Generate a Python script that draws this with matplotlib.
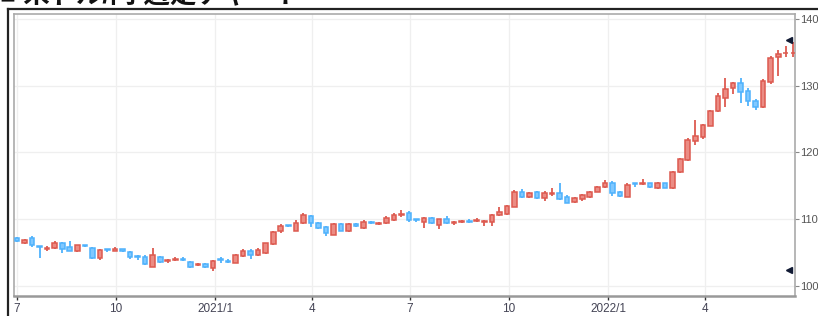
import numpy as np
import pandas as pd
import matplotlib
matplotlib.use("Agg")
import matplotlib.pyplot as plt
import matplotlib.dates as mdates
from matplotlib.lines import Line2D
from matplotlib.transforms import blended_transform_factory

plt.rcParams['font.family'] = ['Liberation Sans', 'Noto Sans CJK JP', 'DejaVu Sans']

# weekly candles, USD/JPY
dates = pd.date_range("2020-07-01", periods=104, freq="7D")

opens = [107.2, 106.4, 107.2, 105.95, 105.6, 105.7, 106.4, 105.8, 105.2, 106.05,
         105.7, 104.2, 105.45, 105.3, 105.5, 105.1, 104.5, 104.4, 102.9, 104.4,
         103.7, 103.95, 104.05, 103.6, 103.1, 103.3, 102.75, 103.95, 103.65, 103.5,
         104.55, 105.25, 104.6, 104.9, 106.25, 108.2, 109.05, 108.3, 109.4, 110.55,
         109.5, 108.9, 107.7, 109.3, 108.3, 109.3, 108.7, 109.55, 109.35, 109.4,
         109.9, 110.6, 110.9, 109.95, 109.65, 110.25, 109.15, 110.1, 109.45, 109.6,
         109.7, 109.75, 109.6, 109.65, 110.65, 110.8, 111.9, 114.15, 113.3, 114.15,
         113.2, 113.85, 114.0, 113.4, 112.65, 113.0, 113.3, 114.15, 114.8, 115.4,
         114.15, 113.4, 115.45, 115.35, 115.4, 114.75, 115.4, 114.65, 117.15, 118.9,
         121.75, 122.3, 124.0, 126.15, 128.15, 129.65, 130.4, 129.15, 127.75, 126.8,
         130.5, 134.3, 134.85, 134.85]
highs = [107.4, 107.0, 107.5, 106.0, 106.0, 106.8, 106.6, 106.8, 106.2, 106.1,
         105.8, 105.5, 105.6, 105.8, 105.6, 105.2, 104.7, 104.6, 105.7, 104.5,
         104.1, 104.4, 104.3, 103.7, 103.4, 103.4, 103.9, 104.3, 104.0, 104.8,
         105.6, 105.5, 105.7, 106.5, 108.3, 109.3, 109.1, 109.9, 110.9, 110.7,
         109.6, 109.0, 109.4, 109.5, 109.4, 109.4, 109.9, 109.8, 109.6, 110.5,
         110.9, 111.4, 111.2, 110.1, 110.4, 110.4, 110.1, 110.5, 109.8, 109.9,
         110.0, 110.2, 109.9, 110.8, 111.9, 112.1, 114.4, 114.6, 114.1, 114.3,
         114.2, 114.7, 115.4, 113.6, 113.4, 113.8, 114.3, 115.0, 115.9, 115.7,
         114.3, 115.5, 115.5, 116.0, 115.5, 115.6, 115.5, 117.3, 119.2, 122.2,
         124.9, 124.3, 126.4, 128.9, 131.1, 130.6, 131.2, 129.6, 128.0, 131.0,
         134.4, 135.4, 135.9, 136.6]
lows = [106.6, 106.3, 105.9, 104.2, 105.3, 105.6, 105.0, 105.2, 105.1, 105.9,
        104.1, 103.9, 105.1, 105.2, 105.1, 104.1, 103.9, 103.2, 102.9, 103.5,
        103.5, 103.7, 103.8, 102.7, 103.0, 102.7, 102.25, 103.5, 103.4, 103.4,
        104.4, 104.0, 104.5, 104.8, 106.1, 108.0, 108.8, 108.2, 109.3, 108.9,
        108.6, 107.5, 107.6, 108.2, 108.1, 108.9, 108.5, 109.3, 109.2, 109.3,
        109.8, 110.3, 109.6, 109.6, 108.7, 109.3, 108.6, 109.3, 109.1, 109.4,
        109.5, 109.6, 109.0, 109.0, 110.5, 110.7, 111.8, 113.2, 113.2, 113.1,
        112.8, 113.5, 112.9, 112.4, 112.5, 112.8, 113.2, 114.1, 114.7, 113.5,
        113.4, 113.3, 114.8, 115.2, 114.7, 114.5, 114.7, 114.6, 117.0, 118.8,
        121.15, 122.0, 123.9, 126.0, 126.8, 128.7, 127.4, 127.0, 126.4, 126.7,
        130.3, 131.4, 134.3, 134.3]
closes = [106.7, 106.9, 106.1, 105.85, 105.75, 106.4, 105.6, 105.3, 106.1, 105.95,
          104.2, 105.4, 105.35, 105.5, 105.2, 104.4, 104.4, 103.3, 104.6, 103.6,
          103.8, 104.05, 103.95, 102.9, 103.3, 102.9, 103.75, 103.85, 103.55, 104.6,
          105.25, 104.6, 105.4, 106.4, 108.15, 108.95, 108.95, 109.5, 110.65, 109.4,
          108.7, 107.9, 109.3, 108.3, 109.3, 109.0, 109.65, 109.45, 109.45, 110.15,
          110.65, 110.7, 109.9, 109.85, 110.25, 109.5, 110.0, 109.5, 109.55, 109.7,
          109.6, 109.85, 109.7, 110.65, 111.15, 112.0, 114.15, 113.3, 113.9, 113.2,
          113.9, 113.95, 113.0, 112.5, 113.25, 113.65, 114.15, 114.9, 115.4, 113.9,
          113.5, 115.15, 115.35, 115.45, 114.8, 115.4, 114.75, 117.15, 119.0, 121.9,
          122.4, 124.05, 126.25, 128.4, 129.55, 130.4, 129.0, 127.65, 126.8, 130.65,
          134.15, 134.8, 134.95, 134.95]

tick_dates = ["2020-07-01", "2020-10-01", "2021-01-01", "2021-04-01",
              "2021-07-01", "2021-10-01", "2022-01-01", "2022-04-01"]
tick_labels = ["7", "10", "2021/1", "4", "7", "10", "2022/1", "4"]
y_ticks = [100, 110, 120, 130, 140]

title = "■ 米ドル/円 週足チャート"

up_fill, up_edge = "#eb8c84", "#dd5a50"
down_fill, down_edge = "#80c8ff", "#4fb2fc"

fig = plt.figure(figsize=(8.18, 3.16), dpi=100)
ax = fig.add_axes([14 / 818, 1 - 296 / 316, 781 / 818, 282 / 316])

x = mdates.date2num(dates)
o = np.array(opens)
h = np.array(highs)
l = np.array(lows)
c = np.array(closes)
up = c >= o

for i in range(len(x)):
    fc, ec = (up_fill, up_edge) if up[i] else (down_fill, down_edge)
    ax.vlines(x[i], l[i], h[i], color=ec, lw=1.3, zorder=2)
    bottom = min(o[i], c[i])
    height = max(abs(c[i] - o[i]), 0.12)
    ax.bar(x[i], height, width=4.3, bottom=bottom, color=fc, edgecolor=ec,
           linewidth=1.1, zorder=3)

# high / low markers at the right edge
trans = blended_transform_factory(ax.transAxes, ax.transData)
ax.plot([0.992], [h.max() + 0.3], marker="<", color="#111a33", ms=5, transform=trans,
        clip_on=False, zorder=4)
ax.plot([0.992], [l.min() + 0.1], marker="<", color="#111a33", ms=5, transform=trans,
        clip_on=False, zorder=4)

ax.set_xlim(x[0] - 2.8, x[-1] + 1.6)
ax.set_ylim(98.5, 140.75)

ax.set_xticks(mdates.date2num(pd.to_datetime(tick_dates)))
ax.set_xticklabels(tick_labels)
ax.set_yticks(y_ticks)
ax.yaxis.tick_right()
ax.tick_params(axis="y", length=3, width=0.8, color="#888888", labelcolor="#555555",
               labelsize=8, pad=1)
ax.tick_params(axis="x", length=3, width=1, color="#333333", labelcolor="#444455",
               labelsize=8.5, pad=2)
ax.grid(True, color="#efefef", lw=0.9, zorder=0)
for s in ax.spines.values():
    s.set_color("#aaaaaa")
    s.set_linewidth(1.2)
ax.spines["bottom"].set_linewidth(1.8)
ax.spines["bottom"].set_color("#999999")

# outer frame + heading (cut off at the top, as in the screenshot)
fig.add_artist(Line2D([8 / 818, 8 / 818], [0, 1 - 9 / 316], color="#222222", lw=1.6))
fig.add_artist(Line2D([8 / 818, 1], [1 - 9 / 316, 1 - 9 / 316], color="#222222", lw=1.6))
fig.text(0.0, 1 - 8 / 316, title, fontsize=19, fontweight="bold", va="bottom",
         ha="left", color="#111111")

fig.savefig("out.png", dpi=100)
